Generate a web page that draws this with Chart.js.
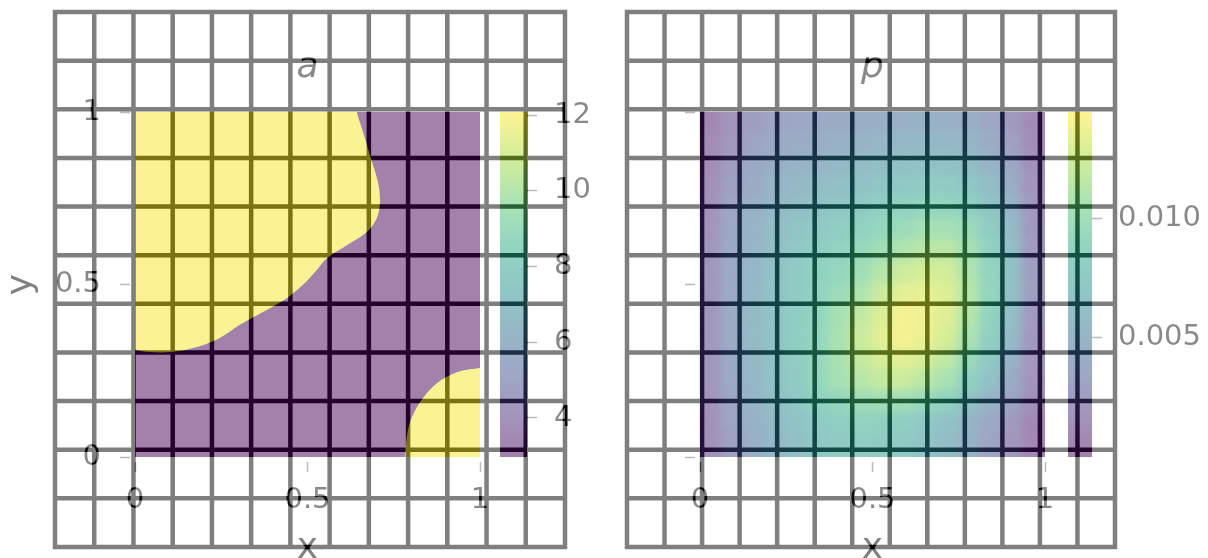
<!DOCTYPE html>
<html>
<head>
<meta charset="utf-8">
<script src="https://cdn.jsdelivr.net/npm/chart.js@4.4.1/dist/chart.umd.min.js"></script>
<style>
  html, body { margin: 0; padding: 0; background: #fff; }
  body { width: 1208px; height: 558px; overflow: hidden; position: relative; }
  #malha { position: absolute; left: 0; top: 0; }
  #camada { position: absolute; left: 0; top: 0; width: 1208px; height: 570px; background: #fff; opacity: 0.5; }
  #camada canvas { position: absolute; top: 0; }
</style>
</head>
<body>
<canvas id="malha" width="1208" height="558"></canvas>
<div id="camada">
  <canvas id="mapaA" width="615" height="570" style="left:0px"></canvas>
  <canvas id="barraA" width="104" height="558" style="left:500px"></canvas>
  <canvas id="mapaP" width="537" height="570" style="left:604px"></canvas>
  <canvas id="barraP" width="140" height="558" style="left:1068px"></canvas>
</div>
<script>
// ticks of both square panels
var eixoTicks = [0, 0.5, 1];

// panel a: two levels of the coefficient
var aBaixo = 3;
var aAlto = 12;
var aCbarMin = 2.97;
var aCbarMax = 12.08;
var aCbarTicks = [4, 6, 8, 10, 12];

// outline of the high region, upper left (x, y)
var aAltoSuperior = [
    [-0.05, 1.05], [0.635, 1.05], [0.643, 1.0], [0.661, 0.942], [0.681, 0.875],
    [0.704, 0.797], [0.710, 0.739], [0.701, 0.693], [0.672, 0.652], [0.614, 0.614],
    [0.557, 0.577], [0.522, 0.536], [0.487, 0.499], [0.441, 0.461], [0.371, 0.420],
    [0.304, 0.383], [0.246, 0.345], [0.180, 0.319], [0.101, 0.304], [0.043, 0.304],
    [0.0, 0.310], [-0.05, 0.315]
];

// outline of the high region, lower right corner (x, y)
var aAltoCanto = [
    [1.05, 0.26], [1.0, 0.258], [0.933, 0.246], [0.875, 0.214], [0.826, 0.159],
    [0.797, 0.101], [0.786, 0.043], [0.783, 0.0], [0.783, -0.05], [1.05, -0.05]
];

// the rest of the square is low
var aBaixoArea = [[-0.05, -0.05], [1.05, -0.05], [1.05, 1.05], [-0.05, 1.05]];

// panel p: values x 1e-3, rows from y = 1 (top) down to y = 0, columns x = 0 .. 1
var pGrid = [
    [0.7, 1.9, 2.7, 3.3, 3.5, 3.7, 4.0, 4.3, 4.4, 4.6, 4.8, 4.6, 4.4, 3.5, 2.3, 1.0],
    [1.0, 2.0, 3.3, 3.7, 4.1, 4.3, 4.6, 4.9, 5.2, 5.4, 5.5, 5.5, 5.2, 4.1, 2.9, 1.1],
    [1.1, 2.6, 3.7, 4.3, 4.8, 5.1, 5.5, 6.0, 6.1, 6.5, 6.6, 6.6, 6.2, 5.1, 3.5, 1.5],
    [1.4, 2.9, 4.0, 4.9, 5.5, 6.0, 6.4, 6.7, 7.0, 7.4, 7.7, 7.7, 7.2, 6.0, 4.3, 1.7],
    [1.5, 3.4, 4.6, 5.4, 6.2, 6.6, 7.2, 7.6, 8.2, 8.6, 9.1, 9.1, 8.5, 6.9, 4.9, 2.0],
    [1.7, 3.7, 5.1, 6.0, 6.9, 7.4, 8.0, 8.6, 9.2, 9.7, 10.3, 10.4, 9.7, 7.9, 5.7, 2.2],
    [1.9, 3.8, 5.2, 6.2, 7.3, 8.0, 8.6, 9.4, 10.1, 11.0, 11.5, 11.5, 10.4, 8.5, 6.1, 2.3],
    [1.9, 3.8, 5.4, 6.5, 7.6, 8.5, 9.2, 10.0, 11.2, 12.3, 12.7, 12.6, 11.0, 8.9, 6.5, 2.6],
    [1.9, 3.8, 5.5, 6.6, 7.7, 8.6, 9.7, 10.9, 12.2, 13.3, 13.5, 12.9, 11.4, 9.1, 6.4, 2.6],
    [1.9, 4.0, 5.7, 6.7, 7.9, 8.9, 10.4, 11.8, 12.9, 14.1, 13.8, 13.1, 11.3, 8.8, 6.1, 2.3],
    [1.9, 4.0, 5.7, 6.7, 8.0, 9.1, 10.6, 12.2, 13.2, 14.1, 13.7, 12.7, 10.8, 8.3, 5.7, 2.0],
    [1.9, 3.8, 5.5, 6.6, 7.9, 9.2, 10.6, 12.0, 12.7, 13.3, 12.7, 11.7, 9.7, 7.4, 4.8, 1.9],
    [1.9, 3.8, 5.4, 6.6, 7.7, 9.2, 10.4, 11.4, 12.0, 12.2, 11.5, 10.6, 8.6, 6.5, 4.0, 1.7],
    [1.7, 3.5, 5.1, 6.2, 7.3, 8.5, 9.2, 10.0, 10.1, 10.1, 9.5, 8.6, 6.9, 5.1, 3.3, 1.4],
    [1.4, 3.3, 4.6, 5.7, 6.7, 7.6, 8.0, 8.6, 8.3, 8.2, 7.3, 6.5, 5.2, 3.7, 2.3, 0.7],
    [1.4, 3.0, 4.4, 5.4, 6.4, 7.2, 7.6, 7.9, 7.7, 7.4, 6.7, 6.0, 4.8, 3.4, 2.0, 0.7]
];
var pCbarMin = 0;
var pCbarMax = 0.01445;
var pCbarTicks = [0.005, 0.010];

// viridis colour map
var viridis = [
    [68, 1, 84], [71, 44, 122], [59, 82, 139], [44, 114, 142], [33, 145, 140],
    [39, 173, 129], [92, 200, 99], [170, 220, 50], [253, 231, 37]
];

function corViridis(t) {
    t = Math.max(0, Math.min(1, t));
    var k = t * (viridis.length - 1);
    var i = Math.min(Math.floor(k), viridis.length - 2);
    var f = k - i;
    var c = viridis[i].map(function (v, n) {
        return Math.round(v + (viridis[i + 1][n] - v) * f);
    });
    return 'rgb(' + c.join(',') + ')';
}

function gradienteViridis(ctx) {
    var area = ctx.chart.chartArea;
    if (!area) return corViridis(0.5);
    var g = ctx.chart.ctx.createLinearGradient(0, area.bottom, 0, area.top);
    viridis.forEach(function (c, i) {
        g.addColorStop(i / (viridis.length - 1), 'rgb(' + c.join(',') + ')');
    });
    return g;
}

function pontos(lista) {
    return lista.map(function (p) { return { x: p[0], y: p[1] }; });
}

// cells of p
var pN = pGrid.length;
var pCelulas = [];
pGrid.forEach(function (linha, j) {
    linha.forEach(function (v, i) {
        pCelulas.push({ x: (i + 0.5) / pN, y: 1 - (j + 0.5) / pN, v: v / 1000 });
    });
});

Chart.defaults.font.family = "'DejaVu Sans', sans-serif";
Chart.defaults.animation = false;

// background mesh
var m = document.getElementById('malha').getContext('2d');
m.strokeStyle = '#000';
m.lineWidth = 4.5;
m.lineCap = 'square';
m.filter = 'blur(0.5px)';
function desenharMalha(x0, x1, nx, y0, y1, ny) {
    m.beginPath();
    for (var i = 0; i <= nx; i++) {
        var x = x0 + (x1 - x0) * i / nx;
        m.moveTo(x, y0); m.lineTo(x, y1);
    }
    for (var j = 0; j <= ny; j++) {
        var y = y0 + (y1 - y0) * j / ny;
        m.moveTo(x0, y); m.lineTo(x1, y);
    }
    m.stroke();
}
desenharMalha(55, 565, 13, 12, 547, 11);
desenharMalha(627, 1115, 13, 12, 547, 11);

// draws the cells again, blurred, so the map looks interpolated
var suavizar = {
    id: 'suavizar',
    afterDatasetDraw: function (chart, args) {
        var a = chart.chartArea;
        var ctx = chart.ctx;
        ctx.save();
        ctx.beginPath();
        ctx.rect(a.left, a.top, a.right - a.left, a.bottom - a.top);
        ctx.clip();
        ctx.filter = 'blur(6px)';
        for (var k = 0; k < 3; k++) {
            args.meta.controller.draw();
        }
        ctx.restore();
    }
};

function fixarTicks(valores) {
    return function (s) {
        s.ticks = valores.map(function (v) { return { value: v }; });
    };
}

function eixoX() {
    return {
        type: 'linear', min: 0, max: 1,
        afterBuildTicks: fixarTicks(eixoTicks),
        afterFit: function (s) { s.height = 113; },
        grid: { drawOnChartArea: false, tickLength: 15, tickBorderDash: [10, 5], tickBorderDashOffset: 10, tickColor: '#777', tickWidth: 1.5 },
        border: { display: false },
        ticks: { padding: 11, color: '#111', font: { size: 29 }, maxRotation: 0, callback: function (v) { return String(v); } },
        title: { display: true, text: 'x', color: '#000', font: { size: 36 }, padding: 0 }
    };
}

function eixoY(largura, comTexto) {
    return {
        type: 'linear', min: 0, max: 1, position: 'left',
        afterBuildTicks: fixarTicks(eixoTicks),
        afterFit: function (s) { s.width = largura; },
        grid: { drawOnChartArea: false, tickLength: 15, tickBorderDash: [10, 5], tickColor: '#777', tickWidth: 1.5 },
        border: { display: false },
        ticks: { display: comTexto, padding: 19, color: '#111', font: { size: 29 }, callback: function (v) { return String(v); } },
        title: { display: comTexto, text: 'y', color: '#000', font: { size: 36 }, padding: 0 }
    };
}

function eixoVazio(largura) {
    return {
        type: 'linear', position: 'right', display: true,
        afterFit: function (s) { s.width = largura; },
        grid: { display: false }, border: { display: false }, ticks: { display: false }
    };
}

function titulo(texto) {
    return {
        display: true, text: texto, color: '#111',
        font: { size: 36, style: 'italic', weight: 'normal' },
        padding: { top: 45.7, bottom: 23.1 }
    };
}

function regiao(lista, valor, ordem) {
    return {
        data: pontos(lista),
        showLine: true,
        fill: 'shape',
        tension: ordem === 2 ? 0 : 0.35,
        backgroundColor: corViridis((valor - aCbarMin) / (aCbarMax - aCbarMin)),
        borderColor: 'rgba(0,0,0,0)',
        borderWidth: 0,
        pointRadius: 0,
        order: ordem
    };
}

// panel a
new Chart(document.getElementById('mapaA'), {
    type: 'scatter',
    data: {
        datasets: [
            regiao(aAltoSuperior, aAlto, 1),
            regiao(aAltoCanto, aAlto, 1),
            regiao(aBaixoArea, aBaixo, 2)
        ]
    },
    options: {
        responsive: false,
        events: [],
        layout: { padding: 0 },
        plugins: { legend: { display: false }, tooltip: { enabled: false }, title: titulo('a') },
        scales: { x: eixoX(), y: eixoY(135, true), yr: eixoVazio(135) }
    }
});

// panel p
new Chart(document.getElementById('mapaP'), {
    type: 'scatter',
    data: {
        datasets: [{
            data: pCelulas,
            pointStyle: 'rect',
            pointRadius: function (ctx) {
                var s = ctx.chart.scales.x;
                var w = Math.abs(s.getPixelForValue(1 / pN) - s.getPixelForValue(0)) + 1.2;
                return w / Math.SQRT2;
            },
            pointBackgroundColor: function (ctx) {
                var r = ctx.raw;
                return r ? corViridis((r.v - pCbarMin) / (pCbarMax - pCbarMin)) : 'rgba(0,0,0,0)';
            },
            pointBorderWidth: 0
        }]
    },
    options: {
        responsive: false,
        events: [],
        layout: { padding: 0 },
        plugins: { legend: { display: false }, tooltip: { enabled: false }, title: titulo('p') },
        scales: { x: eixoX(), y: eixoY(96, false), yr: eixoVazio(96) }
    },
    plugins: [suavizar]
});

// colour bars
function barraDeCor(id, minimo, maximo, ticks, largura, espaco, formato) {
    new Chart(document.getElementById(id), {
        type: 'bar',
        data: {
            labels: [''],
            datasets: [{
                data: [[minimo, maximo]],
                backgroundColor: gradienteViridis,
                borderWidth: 0,
                barPercentage: 1,
                categoryPercentage: 1
            }]
        },
        options: {
            responsive: false,
            events: [],
            layout: { padding: { top: 112, bottom: 101, left: 0, right: 0 } },
            plugins: { legend: { display: false }, tooltip: { enabled: false } },
            scales: {
                x: { display: false },
                y: {
                    position: 'right', min: minimo, max: maximo,
                    afterBuildTicks: fixarTicks(ticks),
                    afterFit: function (s) { s.width = largura; },
                    grid: { drawOnChartArea: false, tickLength: 10, tickColor: '#777', tickWidth: 1.5 },
                    border: { display: false },
                    ticks: { padding: espaco, color: '#111', font: { size: 29 }, callback: formato }
                }
            }
        }
    });
}

barraDeCor('barraA', aCbarMin, aCbarMax, aCbarTicks, 77, 17, function (v) { return String(v); });
barraDeCor('barraP', pCbarMin, pCbarMax, pCbarTicks, 116, 16, function (v) { return v.toFixed(3); });
</script>
</body>
</html>
